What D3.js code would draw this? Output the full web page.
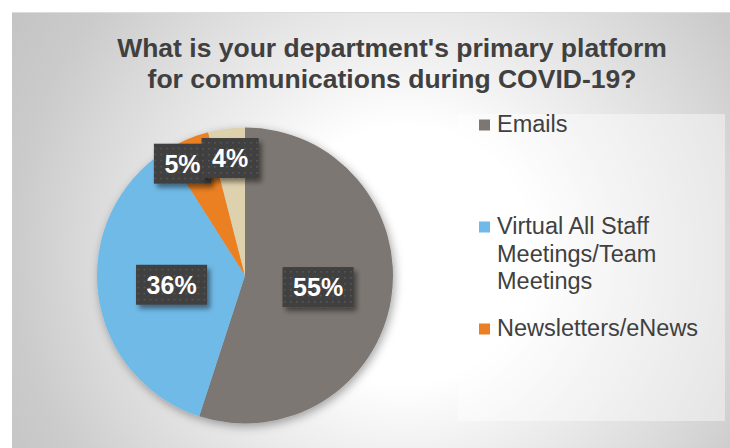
<!DOCTYPE html>
<html>
<head>
<meta charset="utf-8">
<script src="https://cdn.jsdelivr.net/npm/d3@7"></script>
<style>
  html, body { margin: 0; padding: 0; background: #ffffff; }
  svg { display: block; }
</style>
</head>
<body>
<svg id="chart" width="730" height="448"></svg>
<script>
// ---- data ----
const categories = ["Emails", "Virtual All Staff Meetings/Team Meetings", "Newsletters/eNews", "Other"];
const shares = [55, 36, 5, 4];
const legendLines = [["Emails"], ["Virtual All Staff", "Meetings/Team", "Meetings"], ["Newsletters/eNews"], ["Other"]];
const titleLines = ["What is your department's primary platform", "for communications during COVID-19?"];

// ---- styling / layout ----
const sliceColors = ["#7c7772", "#6fbae8", "#ea8023", "#ddd1ae"];
const labelRadiusFactor = [0.5, 0.5, 0.86, 0.8];
const labelNudge = [[0, 0], [0, 0], [-12, 5], [0, 0]];

const W = 730, H = 448;
const svg = d3.select("#chart");
const defs = svg.append("defs");

// background gradient for the chart area
const bg = defs.append("radialGradient")
  .attr("id", "bgGrad").attr("gradientUnits", "userSpaceOnUse")
  .attr("cx", 405).attr("cy", 255).attr("r", 460);
[[0, "#ffffff"], [0.28, "#ffffff"], [0.42, "#f1f1f1"], [0.7, "#d9d9d9"], [0.85, "#cbcbcb"], [1, "#c4c4c4"]]
  .forEach(([o, c]) => bg.append("stop").attr("offset", o).attr("stop-color", c));

// soft shadow under the pie
const pieShadow = defs.append("filter").attr("id", "pieShadow")
  .attr("x", "-20%").attr("y", "-20%").attr("width", "140%").attr("height", "140%");
pieShadow.append("feDropShadow").attr("dx", 2).attr("dy", 3).attr("stdDeviation", 5)
  .attr("flood-color", "#000").attr("flood-opacity", 0.35);

// shadow for label boxes
const labelShadow = defs.append("filter").attr("id", "labelShadow")
  .attr("x", "-30%").attr("y", "-30%").attr("width", "160%").attr("height", "170%");
labelShadow.append("feDropShadow").attr("dx", 3).attr("dy", 4).attr("stdDeviation", 2.5)
  .attr("flood-color", "#000").attr("flood-opacity", 0.45);

// dotted fill for the label boxes
const dots = defs.append("pattern").attr("id", "dots")
  .attr("patternUnits", "userSpaceOnUse").attr("width", 6).attr("height", 6);
dots.append("rect").attr("width", 6).attr("height", 6).attr("fill", "#3f3f3f");
dots.append("rect").attr("x", 2).attr("y", 2).attr("width", 1.5).attr("height", 1.5).attr("fill", "#5d5d5d");

// chart area
svg.append("rect").attr("x", 12).attr("y", 12).attr("width", W - 12).attr("height", H - 12)
  .attr("fill", "url(#bgGrad)");
svg.append("line").attr("x1", 12).attr("x2", W).attr("y1", 12.5).attr("y2", 12.5)
  .attr("stroke", "#dcdcdc").attr("stroke-width", 1);

// title
const title = svg.append("text")
  .attr("text-anchor", "middle")
  .attr("font-family", "Arial, 'Liberation Sans', sans-serif")
  .attr("font-weight", "bold").attr("font-size", 26.5).attr("fill", "#404040");
titleLines.forEach((t, i) => {
  title.append("tspan").attr("x", 392).attr("y", 57 + i * 31).text(t);
});

// pie
const cx = 245, cy = 275.5, R = 148;
const pie = d3.pie().sort(null).value(d => d)(shares);
const arc = d3.arc().innerRadius(0).outerRadius(R);
const pieG = svg.append("g").attr("transform", `translate(${cx},${cy})`);
pieG.append("g").attr("filter", "url(#pieShadow)")
  .selectAll("path").data(pie).join("path")
  .attr("d", arc)
  .attr("fill", (d, i) => sliceColors[i]);

// data labels
const labelsG = pieG.append("g");
pie.forEach((d, i) => {
  const f = labelRadiusFactor[i] * R;
  const [lx, ly] = d3.arc().innerRadius(f).outerRadius(f).centroid(d);
  const x = lx + labelNudge[i][0], y = ly + labelNudge[i][1];
  const g = labelsG.append("g").attr("transform", `translate(${x},${y})`);
  const box = g.append("rect").attr("fill", "url(#dots)").attr("filter", "url(#labelShadow)");
  const txt = g.append("text")
    .attr("text-anchor", "middle").attr("y", 9)
    .attr("font-family", "Arial, 'Liberation Sans', sans-serif")
    .attr("font-weight", "bold").attr("font-size", 25).attr("fill", "#ffffff")
    .text(d3.format(".0f")(d.data) + "%");
  const w = txt.node().getComputedTextLength() + 21, h = 40;
  box.attr("x", -w / 2).attr("y", -h / 2).attr("width", w).attr("height", h);
});

// legend: entries are stacked at a fixed pitch; entries that do not fit in the box are left out
const legendBox = { x: 458, y: 114, w: 267, h: 307 };
svg.append("rect").attr("x", legendBox.x).attr("y", legendBox.y)
  .attr("width", legendBox.w).attr("height", legendBox.h)
  .attr("fill", "#ffffff").attr("fill-opacity", 0.42);

const legendG = svg.append("g");
const itemPitch = 102, lineH = 27.5;
categories.forEach((c, i) => {
  const y0 = 124.5 + i * itemPitch;
  const bottom = y0 + 7.5 + (legendLines[i].length - 1) * lineH + 6;
  if (bottom > legendBox.y + legendBox.h) return;
  legendG.append("rect").attr("x", 479).attr("y", y0 - 5).attr("width", 11).attr("height", 11)
    .attr("fill", sliceColors[i]);
  const t = legendG.append("text")
    .attr("font-family", "Arial, 'Liberation Sans', sans-serif")
    .attr("font-size", 23.5).attr("fill", "#404040");
  legendLines[i].forEach((ln, j) => {
    t.append("tspan").attr("x", 497).attr("y", y0 + 7.5 + j * lineH).text(ln);
  });
});
</script>
</body>
</html>
